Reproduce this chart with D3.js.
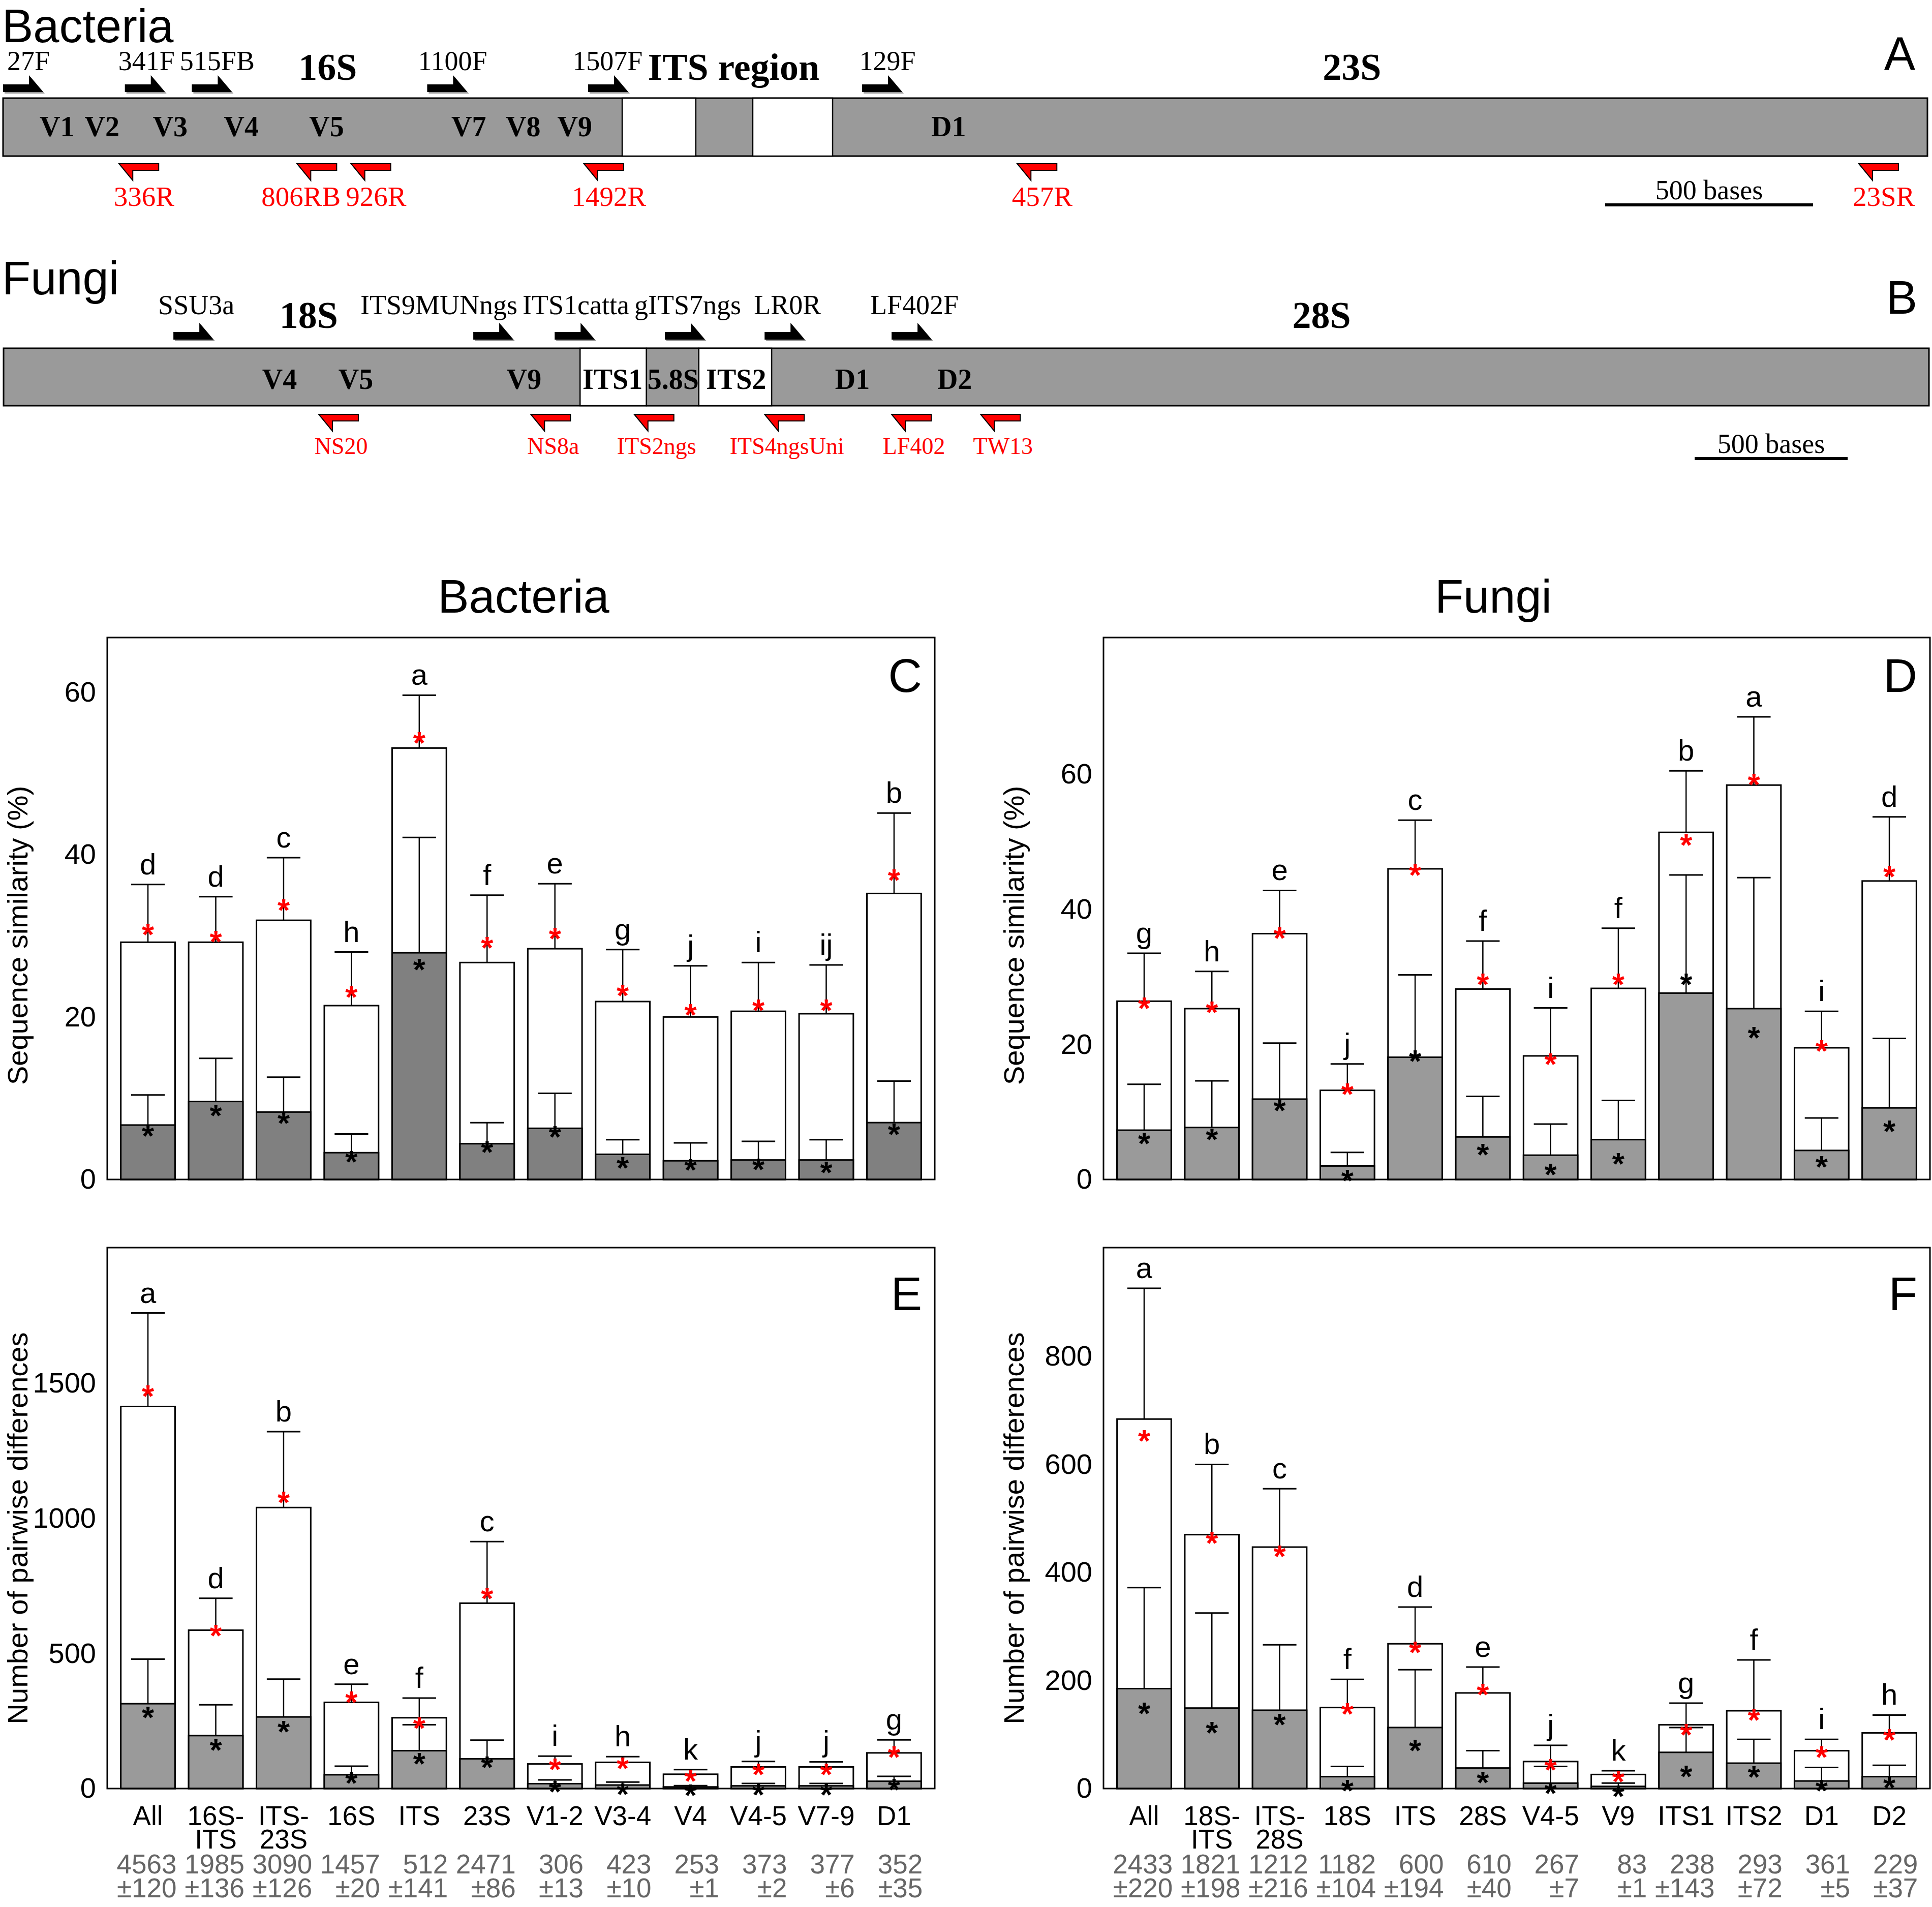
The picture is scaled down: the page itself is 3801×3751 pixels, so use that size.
<!DOCTYPE html>
<html><head><meta charset="utf-8">
<script src="https://cdn.jsdelivr.net/npm/d3@7"></script>
<style>body{margin:0;background:#fff}</style>
</head><body>
<svg id="chart" width="3801" height="3751" xmlns="http://www.w3.org/2000/svg"></svg>
<script>
// ---------------- DATA ----------------
// Gene maps (positions in bases)
const bacLength = 4628;
const bacFwdNames = ["27F","341F","515FB","1100F","1507F","129F"];
const bacFwdPos   = [0, 293, 454, 1020, 1407, 2066];
const bacRevNames = ["336R","806RB","926R","1492R","457R","23SR"];
const bacRevPos   = [279, 707, 837, 1397, 2439, 4463];
const bacRegionNames = ["V1","V2","V3","V4","V5","V7","V8","V9","D1"];
const bacRegionPos   = [130, 238, 402, 573, 778, 1120, 1251, 1375, 2274];
const bacGeneNames = ["16S","ITS region","23S"];
const bacGenePos   = [781, 1757, 3244];
const bacBoxStart = [1489, 1803];
const bacBoxEnd   = [1666, 1995];

const funLength = 6292;
const funFwdNames = ["SSU3a","ITS9MUNngs","ITS1catta","gITS7ngs","LR0R","LF402F"];
const funFwdPos   = [555, 1535, 1801, 2161, 2487, 2902];
const funRevNames = ["NS20","NS8a","ITS2ngs","ITS4ngsUni","LF402","TW13"];
const funRevPos   = [1030, 1723, 2061, 2487, 2902, 3193];
const funRegionNames = ["V4","V5","V9","ITS1","5.8S","ITS2","D1","D2"];
const funRegionPos   = [902, 1151, 1701, 1990, 2188, 2394, 2774, 3108];
const funGeneNames = ["18S","28S"];
const funGenePos   = [997, 4307];
const funBoxStart = [1884, 2101, 2272];
const funBoxEnd   = [2101, 2272, 2510];
const scaleBases = 500;

// Bar charts
const bacCats = ["All","16S-\nITS","ITS-\n23S","16S","ITS","23S","V1-2","V3-4","V4","V4-5","V7-9","D1"];
const funCats = ["All","18S-\nITS","ITS-\n28S","18S","ITS","28S","V4-5","V9","ITS1","ITS2","D1","D2"];

// C: Bacteria sequence similarity (%)
const bacSimTotal    = [29.2, 29.2, 31.9, 21.4, 53.1, 26.7, 28.4, 21.9, 20.0, 20.7, 20.4, 35.2];
const bacSimTotalSD  = [7.1, 5.6, 7.7, 6.6, 6.5, 8.3, 8.0, 6.4, 6.3, 6.0, 6.0, 9.9];
const bacSimTotalMed = [31.1, 30.2, 34.1, 23.4, 54.7, 29.5, 30.6, 23.6, 21.2, 21.8, 21.8, 37.8];
const bacSimInner    = [6.7, 9.6, 8.3, 3.3, 27.9, 4.4, 6.3, 3.1, 2.3, 2.4, 2.4, 7.0];
const bacSimInnerSD  = [3.7, 5.3, 4.3, 2.3, 14.2, 2.6, 4.3, 1.8, 2.2, 2.3, 2.5, 5.1];
const bacSimInnerMed = [6.3, 8.85, 7.9, 3.1, 26.8, 4.3, 6.2, 2.4, 2.1, 2.2, 1.8, 6.5];
const bacSimLetters  = ["d","d","c","h","a","f","e","g","j","i","ij","b"];

// D: Fungi sequence similarity (%)
const funSimTotal    = [26.4, 25.3, 36.4, 13.2, 46.0, 28.2, 18.3, 28.3, 51.4, 58.4, 19.5, 44.2];
const funSimTotalSD  = [7.1, 5.5, 6.4, 3.9, 7.2, 7.1, 7.1, 8.9, 9.1, 10.1, 5.4, 9.5];
const funSimTotalMed = [26.5, 25.9, 36.9, 13.8, 46.2, 30.0, 18.2, 30.0, 50.7, 59.6, 20.2, 46.0];
const funSimInner    = [7.3, 7.7, 11.9, 2.0, 18.1, 6.3, 3.6, 5.9, 27.6, 25.3, 4.3, 10.6];
const funSimInnerSD  = [6.8, 6.9, 8.3, 2.0, 12.2, 6.0, 4.6, 5.8, 17.5, 19.4, 4.8, 10.3];
const funSimInnerMed = [6.5, 7.1, 11.4, 1.0, 18.7, 4.8, 1.9, 3.5, 30.0, 22.1, 3.0, 8.3];
const funSimLetters  = ["g","h","e","j","c","f","i","f","b","a","i","d"];

// E: Bacteria number of pairwise differences
const bacDifTotal    = [1414, 586, 1040, 319, 262, 686, 91, 97, 53, 80, 80, 132];
const bacDifTotalSD  = [346, 118, 281, 67, 73, 228, 29, 21, 17, 20, 19, 48];
const bacDifTotalMed = [1481, 595, 1087, 348, 252, 732, 99, 104, 56, 80, 81, 144];
const bacDifInner    = [314, 196, 265, 51, 140, 110, 18, 13, 6, 10, 10, 27];
const bacDifInnerSD  = [165, 114, 140, 32, 96, 69, 14, 11, 5, 9, 9, 18];
const bacDifInnerMed = [292, 172, 239, 48, 120, 107, 16, 8, 3, 6, 5, 24];
const bacDifLetters  = ["a","d","b","e","f","c","i","h","k","j","j","g"];
const bacLenMean = [4563, 1985, 3090, 1457, 512, 2471, 306, 423, 253, 373, 377, 352];
const bacLenSD   = [120, 136, 126, 20, 141, 86, 13, 10, 1, 2, 6, 35];

// F: Fungi number of pairwise differences
const funDifTotal    = [684, 470, 447, 150, 268, 177, 50, 26, 118, 144, 70, 103];
const funDifTotalSD  = [242, 130, 108, 52, 68, 48, 30, 7, 40, 94, 21, 33];
const funDifTotalMed = [658, 469, 444, 152, 266, 188, 49, 27, 114, 141, 72, 104];
const funDifInner    = [185, 149, 145, 22, 113, 38, 10, 4, 67, 47, 14, 22];
const funDifInnerSD  = [187, 176, 121, 19, 107, 32, 31, 6, 46, 44, 25, 21];
const funDifInnerMed = [153, 118, 133, 10, 85, 25, 6, 0, 37, 36, 10, 16];
const funDifLetters  = ["a","b","c","f","d","e","j","k","g","f","i","h"];
const funLenMean = [2433, 1821, 1212, 1182, 600, 610, 267, 83, 238, 293, 361, 229];
const funLenSD   = [220, 198, 216, 104, 194, 40, 7, 1, 143, 72, 5, 37];

const simTicks = [0, 20, 40, 60];
const bacDifTicks = [0, 500, 1000, 1500];
const funDifTicks = [0, 200, 400, 600, 800];

// ---------------- DRAWING ----------------
const SANS = "'Liberation Sans', Arial, sans-serif";
const SERIF = "'Liberation Serif', 'Times New Roman', serif";
const svg = d3.select("#chart");
svg.append("rect").attr("width",3801).attr("height",3751).attr("fill","#fff");

// place labels near their centres, pushing leftwards to avoid neighbours and obstacles
function spreadLabels(sel, centers, gap, obstacles){
  obstacles = obstacles || [];
  const nodes = sel.nodes();
  const w = nodes.map(n => n.getComputedTextLength());
  const lefts = centers.map((c,i)=> c - w[i]/2);
  for (let i = nodes.length-1; i >= 0; i--) {
    let maxRight = (i < nodes.length-1) ? lefts[i+1] - gap : Infinity;
    obstacles.forEach(o => { if ((o[0]+o[1])/2 > centers[i] && o[0]-gap < maxRight) maxRight = Math.min(maxRight, o[0]-gap); });
    if (lefts[i] + w[i] > maxRight) lefts[i] = maxRight - w[i];
  }
  sel.attr("x",(d,i)=>lefts[i]).attr("text-anchor","start");
}

function drawGene(c){
  const g = svg.append("g");
  const x = d3.scaleLinear().domain([0,c.length]).range([c.x0,c.x1]);
  g.append("text").attr("x",c.titleX).attr("y",c.titleY).text(c.title)
    .attr("font-family",SANS).attr("font-size",92);
  g.append("text").attr("x",c.letterX).attr("y",c.letterY).text(c.letter)
    .attr("font-family",SANS).attr("font-size",92).attr("text-anchor","end");
  // main bar
  g.append("rect").attr("x",x(0)).attr("y",c.barTop).attr("width",x(c.length)-x(0))
    .attr("height",c.barBot-c.barTop).attr("fill","#9a9a9a").attr("stroke","#000").attr("stroke-width",3);
  g.selectAll(null).data(c.boxStart).join("rect")
    .attr("x",d=>x(d)).attr("y",c.barTop).attr("width",(d,i)=>x(c.boxEnd[i])-x(d))
    .attr("height",c.barBot-c.barTop).attr("fill",(d,i)=>c.boxFill[i])
    .attr("stroke","#000").attr("stroke-width",2.5);
  // region labels
  g.selectAll(null).data(c.regNames).join("text")
    .attr("x",(d,i)=>x(c.regPos[i])).attr("y",c.regY).text(d=>d)
    .attr("font-family",SERIF).attr("font-weight","bold").attr("font-size",56).attr("text-anchor","middle");
  const gl = g.selectAll(null).data(c.geneNames).join("text")
    .attr("x",(d,i)=>x(c.genePos[i])).attr("y",c.geneY).text(d=>d)
    .attr("font-family",SERIF).attr("font-weight","bold").attr("font-size",74).attr("text-anchor","middle");
  const geneBoxes = gl.nodes().map(n => { const b = n.getBBox(); return [b.x, b.x + b.width]; });
  // forward primers
  const fwdPath = "M0,0 L79,0 L51,-33 L51,-15 L0,-15 Z";
  g.selectAll(null).data(c.fwdPos).join("path").attr("d",fwdPath)
    .attr("transform",d=>`translate(${x(d)+3},${c.fwdBottom+3})`).attr("fill","#999");
  g.selectAll(null).data(c.fwdPos).join("path").attr("d",fwdPath)
    .attr("transform",d=>`translate(${x(d)},${c.fwdBottom})`).attr("fill","#000");
  const fl = g.selectAll(null).data(c.fwdNames).join("text").attr("y",c.fwdLabelY).text(d=>d)
    .attr("font-family",SERIF).attr("font-size",c.fwdFont);
  spreadLabels(fl, c.fwdPos.map(p=>x(p)+40+c.labelShift), 10, geneBoxes);
  // reverse primers
  const revPath = "M0,0 L27,33 L27,13 L78,13 L78,0 Z";
  g.selectAll(null).data(c.revPos).join("path").attr("d",revPath)
    .attr("transform",d=>`translate(${x(d)},${c.revTop})`).attr("fill","#ff0000")
    .attr("stroke","#000").attr("stroke-width",2);
  const rl = g.selectAll(null).data(c.revNames).join("text").attr("y",c.revLabelY).text(d=>d)
    .attr("font-family",SERIF).attr("font-size",c.revFont).attr("fill","#ff0000");
  spreadLabels(rl, c.revPos.map(p=>x(p)+39+c.labelShift), 10);
  // scale bar
  const len = x(scaleBases)-x(0);
  g.append("line").attr("x1",c.sbX).attr("x2",c.sbX+len).attr("y1",c.sbY).attr("y2",c.sbY)
    .attr("stroke","#000").attr("stroke-width",6);
  g.append("text").attr("x",c.sbX+len/2).attr("y",c.sbY-11).text(scaleBases+" bases")
    .attr("font-family",SERIF).attr("font-size",54).attr("text-anchor","middle");
}

drawGene({length:bacLength, x0:6, x1:3792, barTop:193, barBot:307,
  title:"Bacteria", titleX:4, titleY:83, letter:"A", letterX:3768, letterY:138,
  boxStart:bacBoxStart, boxEnd:bacBoxEnd, boxFill:["#fff","#fff"],
  regNames:bacRegionNames, regPos:bacRegionPos, regY:268,
  geneNames:bacGeneNames, genePos:bacGenePos, geneY:157, labelShift:10,
  fwdNames:bacFwdNames, fwdPos:bacFwdPos, fwdBottom:181, fwdLabelY:138, fwdFont:54,
  revNames:bacRevNames, revPos:bacRevPos, revTop:322, revLabelY:405, revFont:55,
  sbX:3158, sbY:403});

drawGene({length:funLength, x0:7, x1:3795, barTop:685, barBot:798,
  title:"Fungi", titleX:4, titleY:579, letter:"B", letterX:3772, letterY:617,
  boxStart:funBoxStart, boxEnd:funBoxEnd, boxFill:["#fff","#9a9a9a","#fff"],
  regNames:funRegionNames, regPos:funRegionPos, regY:765,
  geneNames:funGeneNames, genePos:funGenePos, geneY:645, labelShift:5,
  fwdNames:funFwdNames, fwdPos:funFwdPos, fwdBottom:668, fwdLabelY:618, fwdFont:54,
  revNames:funRevNames, revPos:funRevPos, revTop:815, revLabelY:893, revFont:46,
  sbX:3334, sbY:902});

function drawBars(c){
  const g = svg.append("g");
  const x = d3.scaleBand().domain(c.cats).range([c.left,c.right]).paddingInner(0.2).paddingOuter(0.2);
  const y = d3.scaleLinear().domain([0,c.ymax]).range([c.bottom,c.top]);
  const bw = x.bandwidth(), cw = bw*0.62;
  const rows = c.cats.map((k,i)=>({k, t:c.total[i], tsd:c.totalSD[i], tm:c.totalMed[i],
      n:c.inner[i], nsd:c.innerSD[i], nm:c.innerMed[i], L:c.letters[i]}));
  const cx = d => x(d.k)+bw/2;
  // outer (white) bars
  g.selectAll(null).data(rows).join("rect")
    .attr("x",d=>x(d.k)).attr("y",d=>y(d.t)).attr("width",bw).attr("height",d=>y(0)-y(d.t))
    .attr("fill","#fff").attr("stroke","#000").attr("stroke-width",3);
  // upper error bars
  g.selectAll(null).data(rows).join("line")
    .attr("x1",cx).attr("x2",cx).attr("y1",d=>y(d.t)).attr("y2",d=>y(d.t+d.tsd))
    .attr("stroke","#000").attr("stroke-width",2.5);
  g.selectAll(null).data(rows).join("line")
    .attr("x1",d=>cx(d)-cw/2).attr("x2",d=>cx(d)+cw/2).attr("y1",d=>y(d.t+d.tsd)).attr("y2",d=>y(d.t+d.tsd))
    .attr("stroke","#000").attr("stroke-width",3);
  // inner (grey) bars
  g.selectAll(null).data(rows).join("rect")
    .attr("x",d=>x(d.k)).attr("y",d=>y(d.n)).attr("width",bw).attr("height",d=>y(0)-y(d.n))
    .attr("fill",c.grey).attr("stroke","#000").attr("stroke-width",3);
  g.selectAll(null).data(rows).join("line")
    .attr("x1",cx).attr("x2",cx).attr("y1",d=>y(d.n)).attr("y2",d=>y(d.n+d.nsd))
    .attr("stroke","#000").attr("stroke-width",2.5);
  g.selectAll(null).data(rows).join("line")
    .attr("x1",d=>cx(d)-cw/2).attr("x2",d=>cx(d)+cw/2).attr("y1",d=>y(d.n+d.nsd)).attr("y2",d=>y(d.n+d.nsd))
    .attr("stroke","#000").attr("stroke-width",3);
  // frame
  g.append("rect").attr("x",c.left).attr("y",c.top).attr("width",c.right-c.left).attr("height",c.bottom-c.top)
    .attr("fill","none").attr("stroke","#000").attr("stroke-width",3);
  // stars
  g.selectAll(null).data(rows).join("text").text("*")
    .attr("x",cx).attr("y",d=>y(d.tm)+36).attr("fill","#ff0000").attr("font-weight","bold")
    .attr("font-family",SANS).attr("font-size",62).attr("text-anchor","middle");
  g.selectAll(null).data(rows).join("text").text("*")
    .attr("x",cx).attr("y",d=>y(d.nm)+36).attr("fill","#000").attr("font-weight","bold")
    .attr("font-family",SANS).attr("font-size",62).attr("text-anchor","middle");
  // letters
  g.selectAll(null).data(rows).join("text").text(d=>d.L)
    .attr("x",cx).attr("y",d=>y(d.t+d.tsd)-20)
    .attr("font-family",SANS).attr("font-size",58).attr("text-anchor","middle");
  // y axis
  g.append("g").attr("transform",`translate(${c.left},0)`)
    .call(d3.axisLeft(y).tickValues(c.ticks).tickSize(0).tickPadding(22).tickFormat(d3.format("d")))
    .call(a=>a.select(".domain").remove())
    .attr("font-family",SANS).attr("font-size",56)
    .selectAll("text").attr("fill","#000");
  g.append("text").attr("transform",`translate(${c.ytX},${c.ytY}) rotate(-90)`).attr("dy","0.35em")
    .text(c.ytitle).attr("font-family",SANS).attr("font-size",56).attr("text-anchor","middle");
  // panel letter
  g.append("text").attr("x",c.right-25).attr("y",c.letterY).text(c.letter)
    .attr("font-family",SANS).attr("font-size",92).attr("text-anchor","end");
  if (c.title) {
    g.append("text").attr("x",c.titleX).attr("y",c.titleY).text(c.title)
      .attr("font-family",SANS).attr("font-size",92).attr("text-anchor","middle");
  }
  if (c.lenMean) {
    const cl = g.selectAll(null).data(rows).join("text")
      .attr("font-family",SANS).attr("font-size",53).attr("text-anchor","middle");
    cl.each(function(d){
      const parts = d.k.split("\n");
      parts.forEach((p,j)=> d3.select(this).append("tspan").attr("x",cx(d)).attr("y",c.bottom+72+j*46).text(p));
    });
    g.selectAll(null).data(rows).join("text").text((d,i)=>c.lenMean[i])
      .attr("x",d=>x(d.k)+bw+3).attr("y",c.bottom+167).attr("fill","#666")
      .attr("font-family",SANS).attr("font-size",53).attr("text-anchor","end");
    g.selectAll(null).data(rows).join("text").text((d,i)=>"\u00b1"+c.lenSD[i])
      .attr("x",d=>x(d.k)+bw+3).attr("y",c.bottom+214).attr("fill","#666")
      .attr("font-family",SANS).attr("font-size",53).attr("text-anchor","end");
  }
}

drawBars({cats:bacCats, left:211, right:1839, top:1254, bottom:2320, ymax:66.7, ticks:simTicks,
  total:bacSimTotal, totalSD:bacSimTotalSD, totalMed:bacSimTotalMed,
  inner:bacSimInner, innerSD:bacSimInnerSD, innerMed:bacSimInnerMed, letters:bacSimLetters,
  grey:"#808080", ytitle:"Sequence similarity (%)", ytX:34, ytY:1840,
  letter:"C", letterY:1361, title:"Bacteria", titleX:1030, titleY:1205});

drawBars({cats:funCats, left:2171, right:3797, top:1254, bottom:2320, ymax:80.25, ticks:simTicks,
  total:funSimTotal, totalSD:funSimTotalSD, totalMed:funSimTotalMed,
  inner:funSimInner, innerSD:funSimInnerSD, innerMed:funSimInnerMed, letters:funSimLetters,
  grey:"#9a9a9a", ytitle:"Sequence similarity (%)", ytX:1994, ytY:1840,
  letter:"D", letterY:1361, title:"Fungi", titleX:2938, titleY:1205});

drawBars({cats:bacCats, left:211, right:1839, top:2454, bottom:3518, ymax:2002, ticks:bacDifTicks,
  total:bacDifTotal, totalSD:bacDifTotalSD, totalMed:bacDifTotalMed,
  inner:bacDifInner, innerSD:bacDifInnerSD, innerMed:bacDifInnerMed, letters:bacDifLetters,
  grey:"#9a9a9a", ytitle:"Number of pairwise differences", ytX:34, ytY:3006,
  letter:"E", letterY:2577, lenMean:bacLenMean, lenSD:bacLenSD});

drawBars({cats:funCats, left:2171, right:3797, top:2454, bottom:3518, ymax:1001.4, ticks:funDifTicks,
  total:funDifTotal, totalSD:funDifTotalSD, totalMed:funDifTotalMed,
  inner:funDifInner, innerSD:funDifInnerSD, innerMed:funDifInnerMed, letters:funDifLetters,
  grey:"#9a9a9a", ytitle:"Number of pairwise differences", ytX:1994, ytY:3006,
  letter:"F", letterY:2577, lenMean:funLenMean, lenSD:funLenSD});
</script>
</body></html>
